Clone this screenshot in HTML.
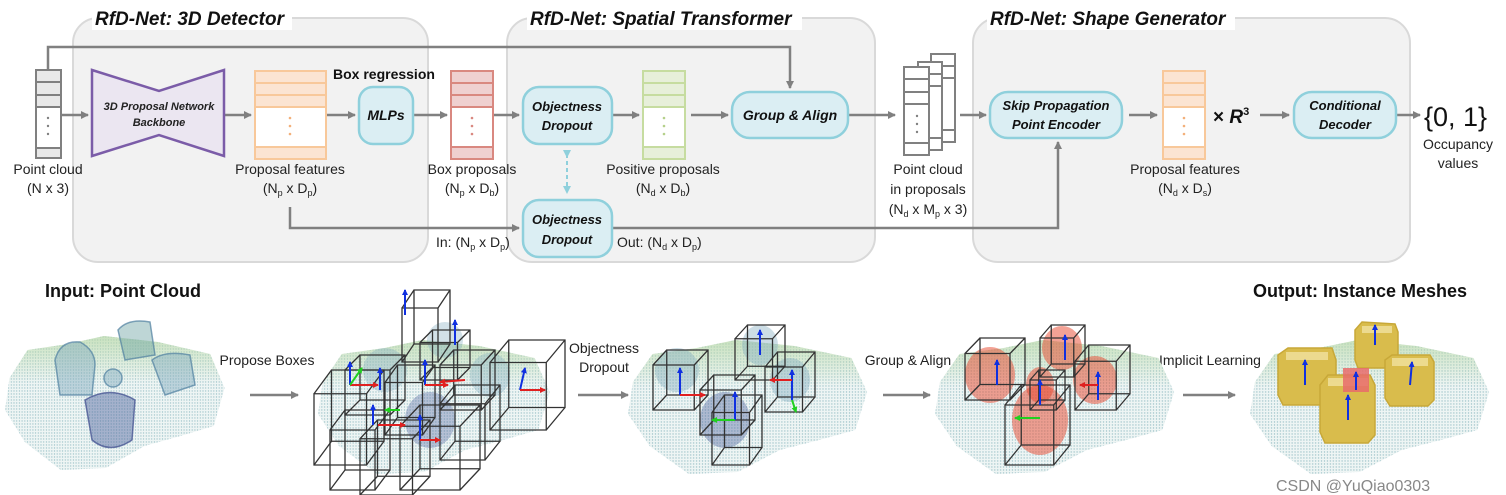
<!DOCTYPE html>
<html><head><meta charset="utf-8"><style>
body{margin:0;background:#fff;}
svg{display:block;}
text{font-family:"Liberation Sans",sans-serif;}
</style></head><body>
<svg width="1506" height="495" viewBox="0 0 1506 495" xmlns="http://www.w3.org/2000/svg">
<defs>
<marker id="a" markerWidth="8" markerHeight="8" refX="7" refY="4" orient="auto" markerUnits="userSpaceOnUse"><path d="M0,0 L8,4 L0,8 z" fill="#808080"/></marker>
<marker id="b" markerWidth="8" markerHeight="8" refX="4" refY="4" orient="auto" markerUnits="userSpaceOnUse"><path d="M0,0 L8,4 L0,8 z" fill="#8fd0dc"/></marker>
<marker id="ab" markerWidth="6" markerHeight="6" refX="5" refY="3" orient="auto" markerUnits="userSpaceOnUse"><path d="M0,0 L6,3 L0,6 z" fill="#1030e0"/></marker>
<marker id="ar" markerWidth="6" markerHeight="6" refX="5" refY="3" orient="auto" markerUnits="userSpaceOnUse"><path d="M0,0 L6,3 L0,6 z" fill="#e02020"/></marker>
<marker id="ag" markerWidth="6" markerHeight="6" refX="5" refY="3" orient="auto" markerUnits="userSpaceOnUse"><path d="M0,0 L6,3 L0,6 z" fill="#20d020"/></marker>
<pattern id="dots" width="3" height="3" patternUnits="userSpaceOnUse"><rect width="3" height="3" fill="#eef5f4"/><circle cx="1" cy="1" r="0.7" fill="#9ec3c9"/></pattern>
<linearGradient id="tg" x1="0" y1="0" x2="0" y2="1"><stop offset="0" stop-color="#b9d9a8" stop-opacity="0.7"/><stop offset="0.35" stop-color="#b9d9a8" stop-opacity="0"/></linearGradient>
<path id="sc" d="M5,60 L25,32 L70,26 L110,18 L170,24 L228,36 L244,70 L232,108 L195,118 L155,128 L112,150 L62,152 L22,124 L0,92 Z"/>
<path id="cube" d="M0,0.25 L0.75,0.25 L0.75,1 L0,1 Z M0.25,0 L1,0 L1,0.75 L0.25,0.75 Z M0,0.25 L0.25,0 M0.75,0.25 L1,0 M0.75,1 L1,0.75 M0,1 L0.25,0.75" fill="none" stroke="#333" stroke-width="1.3" vector-effect="non-scaling-stroke"/>
</defs>
<!-- panels -->
<g fill="#f2f2f2" stroke="#d9d9d9" stroke-width="2">
<rect x="73" y="18" width="355" height="244" rx="25"/>
<rect x="507" y="18" width="368" height="244" rx="25"/>
<rect x="973" y="18" width="437" height="244" rx="25"/>
</g>
<g fill="#fff"><rect x="92" y="6" width="200" height="24"/><rect x="527" y="6" width="275" height="24"/><rect x="987" y="6" width="248" height="24"/></g>
<g font-weight="bold" font-style="italic" font-size="19" fill="#111">
<text x="95" y="25">RfD-Net: 3D Detector</text>
<text x="530" y="25">RfD-Net: Spatial Transformer</text>
<text x="990" y="25">RfD-Net: Shape Generator</text>
</g>
<!-- connectors -->
<g stroke="#808080" stroke-width="2.5" fill="none">
<polyline points="48,70 48,47 790,47 790,88" marker-end="url(#a)"/>
<line x1="61" y1="115" x2="88" y2="115" marker-end="url(#a)"/>
<line x1="224" y1="115" x2="251" y2="115" marker-end="url(#a)"/>
<line x1="326" y1="115" x2="355" y2="115" marker-end="url(#a)"/>
<line x1="413" y1="115" x2="447" y2="115" marker-end="url(#a)"/>
<line x1="493" y1="115" x2="519" y2="115" marker-end="url(#a)"/>
<line x1="612" y1="115" x2="639" y2="115" marker-end="url(#a)"/>
<line x1="691" y1="115" x2="728" y2="115" marker-end="url(#a)"/>
<line x1="848" y1="115" x2="895" y2="115" marker-end="url(#a)"/>
<line x1="960" y1="115" x2="986" y2="115" marker-end="url(#a)"/>
<line x1="1129" y1="115" x2="1157" y2="115" marker-end="url(#a)"/>
<line x1="1260" y1="115" x2="1289" y2="115" marker-end="url(#a)"/>
<line x1="1396" y1="115" x2="1420" y2="115" marker-end="url(#a)"/>
<polyline points="290,207 290,228 519,228" marker-end="url(#a)"/>
<polyline points="612,228 1058,228 1058,142" marker-end="url(#a)"/>
</g>
<line x1="567" y1="154" x2="567" y2="190" stroke="#8fd0dc" stroke-width="2" stroke-dasharray="4,3" marker-start="url(#b)" marker-end="url(#b)"/>
<!-- point cloud column -->
<g stroke="#808080" stroke-width="2" fill="#e8e8e8">
<rect x="36" y="70" width="25" height="88"/><line x1="36" y1="82" x2="61" y2="82"/><line x1="36" y1="95" x2="61" y2="95"/>
<rect x="36" y="107" width="25" height="41" fill="#fff"/>
</g>
<g fill="#808080"><circle cx="48" cy="118" r="1.2"/><circle cx="48" cy="126" r="1.2"/><circle cx="48" cy="134" r="1.2"/></g>
<!-- backbone -->
<path d="M92,70 L159,91 L224,70 L224,156 L159,135 L92,156 Z" fill="#ebe6f1" stroke="#7b5ca8" stroke-width="2.5"/>
<text x="159" y="110" text-anchor="middle" font-size="11" font-weight="bold" font-style="italic" fill="#222">3D Proposal Network</text>
<text x="159" y="126" text-anchor="middle" font-size="11" font-weight="bold" font-style="italic" fill="#222">Backbone</text>
<g stroke-width="2">
<g stroke="#f8c89a" fill="#fbe4d2"><rect x="255" y="71" width="71" height="88"/><line x1="255" y1="83" x2="326" y2="83"/><line x1="255" y1="95" x2="326" y2="95"/><rect x="255" y="107" width="71" height="40" fill="#fff"/></g>
<g stroke="#d98880" fill="#efd0d0"><rect x="451" y="71" width="42" height="88"/><line x1="451" y1="83" x2="493" y2="83"/><line x1="451" y1="95" x2="493" y2="95"/><rect x="451" y="107" width="42" height="40" fill="#fff"/></g>
<g stroke="#c6dca0" fill="#e7efda"><rect x="643" y="71" width="42" height="88"/><line x1="643" y1="83" x2="685" y2="83"/><line x1="643" y1="95" x2="685" y2="95"/><rect x="643" y="107" width="42" height="40" fill="#fff"/></g>
<g stroke="#f8c89a" fill="#fbe4d2"><rect x="1163" y="71" width="42" height="88"/><line x1="1163" y1="83" x2="1205" y2="83"/><line x1="1163" y1="95" x2="1205" y2="95"/><rect x="1163" y="107" width="42" height="40" fill="#fff"/></g>
</g>
<g fill="#f3b07a"><circle cx="290" cy="118" r="1.3"/><circle cx="290" cy="126" r="1.3"/><circle cx="290" cy="134" r="1.3"/><circle cx="1184" cy="118" r="1.3"/><circle cx="1184" cy="126" r="1.3"/><circle cx="1184" cy="134" r="1.3"/></g>
<g fill="#d98880"><circle cx="472" cy="118" r="1.3"/><circle cx="472" cy="126" r="1.3"/><circle cx="472" cy="134" r="1.3"/></g>
<g fill="#b5d08a"><circle cx="664" cy="118" r="1.3"/><circle cx="664" cy="126" r="1.3"/><circle cx="664" cy="134" r="1.3"/></g>
<!-- point cloud stack -->
<g stroke="#808080" stroke-width="2" fill="#fff">
<rect x="931" y="54" width="24" height="88"/><line x1="931" y1="66" x2="955" y2="66"/><line x1="931" y1="78" x2="955" y2="78"/><line x1="931" y1="130" x2="955" y2="130"/>
<rect x="918" y="62" width="24" height="88"/><line x1="918" y1="74" x2="942" y2="74"/><line x1="918" y1="86" x2="942" y2="86"/><line x1="918" y1="138" x2="942" y2="138"/>
<rect x="904" y="67" width="25" height="88"/><line x1="904" y1="79" x2="929" y2="79"/><line x1="904" y1="92" x2="929" y2="92"/><line x1="904" y1="104" x2="929" y2="104"/><line x1="904" y1="143" x2="929" y2="143"/>
</g>
<g fill="#808080"><circle cx="917" cy="116" r="1.2"/><circle cx="917" cy="124" r="1.2"/><circle cx="917" cy="132" r="1.2"/></g>
<g fill="#dbeef3" stroke="#8fd0dc" stroke-width="2.5">
<rect x="359" y="87" width="54" height="57" rx="14"/>
<rect x="523" y="87" width="89" height="57" rx="16"/>
<rect x="523" y="200" width="89" height="57" rx="16"/>
<rect x="732" y="92" width="116" height="46" rx="18"/>
<rect x="990" y="92" width="132" height="46" rx="18"/>
<rect x="1294" y="92" width="102" height="46" rx="18"/>
</g>
<g font-weight="bold" font-style="italic" font-size="13" fill="#111" text-anchor="middle">
<text x="386" y="120" font-size="14">MLPs</text>
<text x="567" y="111">Objectness</text><text x="567" y="130">Dropout</text>
<text x="567" y="224">Objectness</text><text x="567" y="244">Dropout</text>
<text x="790" y="120" font-size="14">Group &amp; Align</text>
<text x="1056" y="110">Skip Propagation</text><text x="1056" y="129">Point Encoder</text>
<text x="1345" y="110">Conditional</text><text x="1345" y="129">Decoder</text>
</g>
<text x="333" y="79" font-size="14" font-weight="bold" fill="#111">Box regression</text>
<g font-size="14" fill="#222" text-anchor="middle">
<text x="48" y="174">Point cloud</text><text x="48" y="193">(N x 3)</text>
<text x="290" y="174">Proposal features</text><text x="290" y="193">(N<tspan font-size="9" dy="3">p</tspan><tspan dy="-3"> x D</tspan><tspan font-size="9" dy="3">p</tspan><tspan dy="-3">)</tspan></text>
<text x="472" y="174">Box proposals</text><text x="472" y="193">(N<tspan font-size="9" dy="3">p</tspan><tspan dy="-3"> x D</tspan><tspan font-size="9" dy="3">b</tspan><tspan dy="-3">)</tspan></text>
<text x="663" y="174">Positive proposals</text><text x="663" y="193">(N<tspan font-size="9" dy="3">d</tspan><tspan dy="-3"> x D</tspan><tspan font-size="9" dy="3">b</tspan><tspan dy="-3">)</tspan></text>
<text x="928" y="174">Point cloud</text><text x="928" y="194">in proposals</text><text x="928" y="214">(N<tspan font-size="9" dy="3">d</tspan><tspan dy="-3"> x M</tspan><tspan font-size="9" dy="3">p</tspan><tspan dy="-3"> x 3)</tspan></text>
<text x="1185" y="174">Proposal features</text><text x="1185" y="193">(N<tspan font-size="9" dy="3">d</tspan><tspan dy="-3"> x D</tspan><tspan font-size="9" dy="3">s</tspan><tspan dy="-3">)</tspan></text>
<text x="1458" y="149">Occupancy</text><text x="1458" y="168">values</text>
</g>
<g font-size="14" fill="#222">
<text x="436" y="247">In: (N<tspan font-size="9" dy="3">p</tspan><tspan dy="-3"> x D</tspan><tspan font-size="9" dy="3">p</tspan><tspan dy="-3">)</tspan></text>
<text x="617" y="247">Out: (N<tspan font-size="9" dy="3">d</tspan><tspan dy="-3"> x D</tspan><tspan font-size="9" dy="3">p</tspan><tspan dy="-3">)</tspan></text>
</g>
<text x="1213" y="123" font-size="19" font-weight="bold" fill="#111">× <tspan font-style="italic">R</tspan><tspan font-size="11" dy="-8">3</tspan></text>
<text x="1424" y="126" font-size="27" fill="#111">{0, 1}</text>
<!-- bottom -->
<text x="45" y="297" font-size="18" font-weight="bold" fill="#111">Input: Point Cloud</text>
<text x="1253" y="297" font-size="18" font-weight="bold" fill="#111">Output: Instance Meshes</text>
<g font-size="14" fill="#222" text-anchor="middle">
<text x="267" y="365">Propose Boxes</text>
<text x="604" y="353">Objectness</text><text x="604" y="372">Dropout</text>
<text x="908" y="365">Group &amp; Align</text>
<text x="1210" y="365">Implicit Learning</text>
</g>
<g stroke="#808080" stroke-width="2.5">
<line x1="250" y1="395" x2="298" y2="395" marker-end="url(#a)"/>
<line x1="578" y1="395" x2="628" y2="395" marker-end="url(#a)"/>
<line x1="883" y1="395" x2="930" y2="395" marker-end="url(#a)"/>
<line x1="1183" y1="395" x2="1235" y2="395" marker-end="url(#a)"/>
</g>
<!-- scene floors -->
<g>
<g transform="translate(5,318) scale(0.9,1)"><use href="#sc" fill="url(#dots)"/><use href="#sc" fill="url(#tg)"/></g>
<g transform="translate(318,322) scale(0.95,1)"><use href="#sc" fill="url(#dots)"/><use href="#sc" fill="url(#tg)"/></g>
<g transform="translate(628,322) scale(0.98,1)"><use href="#sc" fill="url(#dots)"/><use href="#sc" fill="url(#tg)"/></g>
<g transform="translate(935,322) scale(0.98,1)"><use href="#sc" fill="url(#dots)"/><use href="#sc" fill="url(#tg)"/></g>
<g transform="translate(1250,322) scale(0.98,1)"><use href="#sc" fill="url(#dots)"/><use href="#sc" fill="url(#tg)"/></g>
</g>
<!-- scene1 objects -->
<g fill="#7fa9bd" fill-opacity="0.45" stroke="#4f7fa0" stroke-width="1.5" stroke-opacity="0.7">
<path d="M55,360 Q60,340 80,342 Q95,350 95,365 L92,395 L60,395 Z"/>
<path d="M118,330 Q128,318 150,322 L155,355 L125,360 Z" fill="#6fa5a5"/>
<path d="M152,360 Q165,350 190,355 L195,385 L165,395 Z"/>
<path d="M85,400 Q110,385 135,400 L132,440 Q110,455 92,440 Z" fill="#4a5f9c" stroke="#39478a"/>
<circle cx="113" cy="378" r="9"/>
</g>
<!-- scene2 -->
<g fill="#7fa9bd" fill-opacity="0.35">
<ellipse cx="385" cy="370" rx="22" ry="22"/><ellipse cx="445" cy="340" rx="18" ry="18"/><ellipse cx="490" cy="375" rx="20" ry="22"/><ellipse cx="430" cy="420" rx="25" ry="28" fill="#4a5f9c"/>
</g>
<g>
<use href="#cube" transform="translate(402,290) scale(48,72)"/>
<use href="#cube" transform="translate(314,370) scale(70,95)"/>
<use href="#cube" transform="translate(345,355) scale(60,60)"/>
<use href="#cube" transform="translate(385,365) scale(50,70)"/>
<use href="#cube" transform="translate(420,330) scale(50,50)"/>
<use href="#cube" transform="translate(440,350) scale(55,60)"/>
<use href="#cube" transform="translate(490,340) scale(75,90)"/>
<use href="#cube" transform="translate(330,410) scale(60,80)"/>
<use href="#cube" transform="translate(360,420) scale(70,75)"/>
<use href="#cube" transform="translate(400,405) scale(80,85)"/>
<use href="#cube" transform="translate(440,385) scale(60,75)"/>
</g>
<g stroke-width="2" fill="none">
<line x1="350" y1="385" x2="350" y2="362" stroke="#1030e0" marker-end="url(#ab)"/>
<line x1="380" y1="390" x2="380" y2="368" stroke="#1030e0" marker-end="url(#ab)"/>
<line x1="425" y1="385" x2="425" y2="360" stroke="#1030e0" marker-end="url(#ab)"/>
<line x1="455" y1="345" x2="455" y2="320" stroke="#1030e0" marker-end="url(#ab)"/>
<line x1="520" y1="390" x2="525" y2="368" stroke="#1030e0" marker-end="url(#ab)"/>
<line x1="373" y1="425" x2="373" y2="405" stroke="#1030e0" marker-end="url(#ab)"/>
<line x1="420" y1="440" x2="420" y2="415" stroke="#1030e0" marker-end="url(#ab)"/>
<line x1="405" y1="315" x2="405" y2="290" stroke="#1030e0" marker-end="url(#ab)"/>
<line x1="350" y1="385" x2="378" y2="385" stroke="#e02020" marker-end="url(#ar)"/>
<line x1="425" y1="385" x2="448" y2="385" stroke="#e02020" marker-end="url(#ar)"/>
<line x1="520" y1="390" x2="545" y2="390" stroke="#e02020" marker-end="url(#ar)"/>
<line x1="378" y1="425" x2="405" y2="425" stroke="#e02020" marker-end="url(#ar)"/>
<line x1="420" y1="440" x2="440" y2="440" stroke="#e02020" marker-end="url(#ar)"/>
<line x1="465" y1="380" x2="440" y2="382" stroke="#e02020" marker-end="url(#ar)"/>
<line x1="400" y1="410" x2="385" y2="410" stroke="#20d020" marker-end="url(#ag)"/>
<line x1="350" y1="385" x2="362" y2="368" stroke="#20d020" marker-end="url(#ag)"/>
</g>
<!-- scene3 -->
<g fill="#7fa9bd" fill-opacity="0.4">
<ellipse cx="677" cy="370" rx="22" ry="22"/><ellipse cx="760" cy="345" rx="18" ry="20"/><ellipse cx="790" cy="380" rx="20" ry="22"/><ellipse cx="725" cy="420" rx="25" ry="28" fill="#4a5f9c"/>
</g>
<g>
<use href="#cube" transform="translate(653,350) scale(55,60)"/>
<use href="#cube" transform="translate(735,325) scale(50,55)"/>
<use href="#cube" transform="translate(765,352) scale(50,60)"/>
<use href="#cube" transform="translate(700,375) scale(55,60)"/>
<use href="#cube" transform="translate(712,395) scale(50,70)"/>
</g>
<g stroke-width="2" fill="none">
<line x1="680" y1="395" x2="680" y2="368" stroke="#1030e0" marker-end="url(#ab)"/>
<line x1="760" y1="355" x2="760" y2="330" stroke="#1030e0" marker-end="url(#ab)"/>
<line x1="792" y1="400" x2="792" y2="370" stroke="#1030e0" marker-end="url(#ab)"/>
<line x1="735" y1="420" x2="735" y2="392" stroke="#1030e0" marker-end="url(#ab)"/>
<line x1="680" y1="395" x2="705" y2="395" stroke="#e02020" marker-end="url(#ar)"/>
<line x1="792" y1="380" x2="770" y2="380" stroke="#e02020" marker-end="url(#ar)"/>
<line x1="735" y1="420" x2="712" y2="420" stroke="#20d020" marker-end="url(#ag)"/>
<line x1="792" y1="400" x2="796" y2="412" stroke="#20d020" marker-end="url(#ag)"/>
</g>
<!-- scene4 -->
<g fill="#e8452c" fill-opacity="0.5">
<ellipse cx="990" cy="375" rx="25" ry="28"/><ellipse cx="1062" cy="348" rx="20" ry="22"/><ellipse cx="1095" cy="380" rx="22" ry="24"/><ellipse cx="1040" cy="420" rx="28" ry="35"/><ellipse cx="1040" cy="385" rx="14" ry="18"/>
</g>
<g>
<use href="#cube" transform="translate(965,338) scale(60,62)"/>
<use href="#cube" transform="translate(1040,325) scale(45,52)"/>
<use href="#cube" transform="translate(1075,345) scale(55,65)"/>
<use href="#cube" transform="translate(1030,370) scale(35,40)"/>
<use href="#cube" transform="translate(1005,385) scale(65,80)"/>
</g>
<g stroke-width="2" fill="none">
<line x1="997" y1="385" x2="997" y2="360" stroke="#1030e0" marker-end="url(#ab)"/>
<line x1="1065" y1="360" x2="1065" y2="335" stroke="#1030e0" marker-end="url(#ab)"/>
<line x1="1098" y1="400" x2="1098" y2="372" stroke="#1030e0" marker-end="url(#ab)"/>
<line x1="1040" y1="405" x2="1040" y2="380" stroke="#1030e0" marker-end="url(#ab)"/>
<line x1="1040" y1="418" x2="1015" y2="418" stroke="#20d020" marker-end="url(#ag)"/>
<line x1="1098" y1="385" x2="1080" y2="385" stroke="#e02020" marker-end="url(#ar)"/>
</g>
<!-- scene5 -->
<g fill="#d9bc4c" stroke="#c8a838" stroke-width="1.5">
<path d="M1278,355 L1288,348 L1332,348 L1336,360 L1336,398 L1325,405 L1283,405 L1278,395 Z"/>
<path d="M1355,330 L1362,322 L1395,324 L1398,332 L1398,362 L1392,368 L1358,368 L1355,360 Z"/>
<path d="M1385,360 L1392,355 L1430,355 L1434,362 L1434,400 L1428,406 L1390,406 L1385,398 Z"/>
<path d="M1320,385 L1328,375 L1370,375 L1375,385 L1375,435 L1368,443 L1325,443 L1320,432 Z"/>
</g>
<g fill="#f1e2a0" opacity="0.8">
<rect x="1286" y="352" width="42" height="8"/><rect x="1362" y="326" width="30" height="7"/><rect x="1392" y="358" width="36" height="8"/><rect x="1328" y="378" width="40" height="8"/>
</g>
<rect x="1343" y="368" width="26" height="24" fill="#e86b6b" opacity="0.85"/>
<g stroke-width="2" fill="none">
<line x1="1305" y1="385" x2="1305" y2="360" stroke="#1030e0" marker-end="url(#ab)"/>
<line x1="1375" y1="345" x2="1375" y2="325" stroke="#1030e0" marker-end="url(#ab)"/>
<line x1="1410" y1="385" x2="1412" y2="362" stroke="#1030e0" marker-end="url(#ab)"/>
<line x1="1348" y1="420" x2="1348" y2="395" stroke="#1030e0" marker-end="url(#ab)"/>
<line x1="1356" y1="390" x2="1356" y2="372" stroke="#1030e0" marker-end="url(#ab)"/>
</g>
<text x="1276" y="491" font-size="16" fill="#888">CSDN @YuQiao0303</text>
</svg>
</body></html>
